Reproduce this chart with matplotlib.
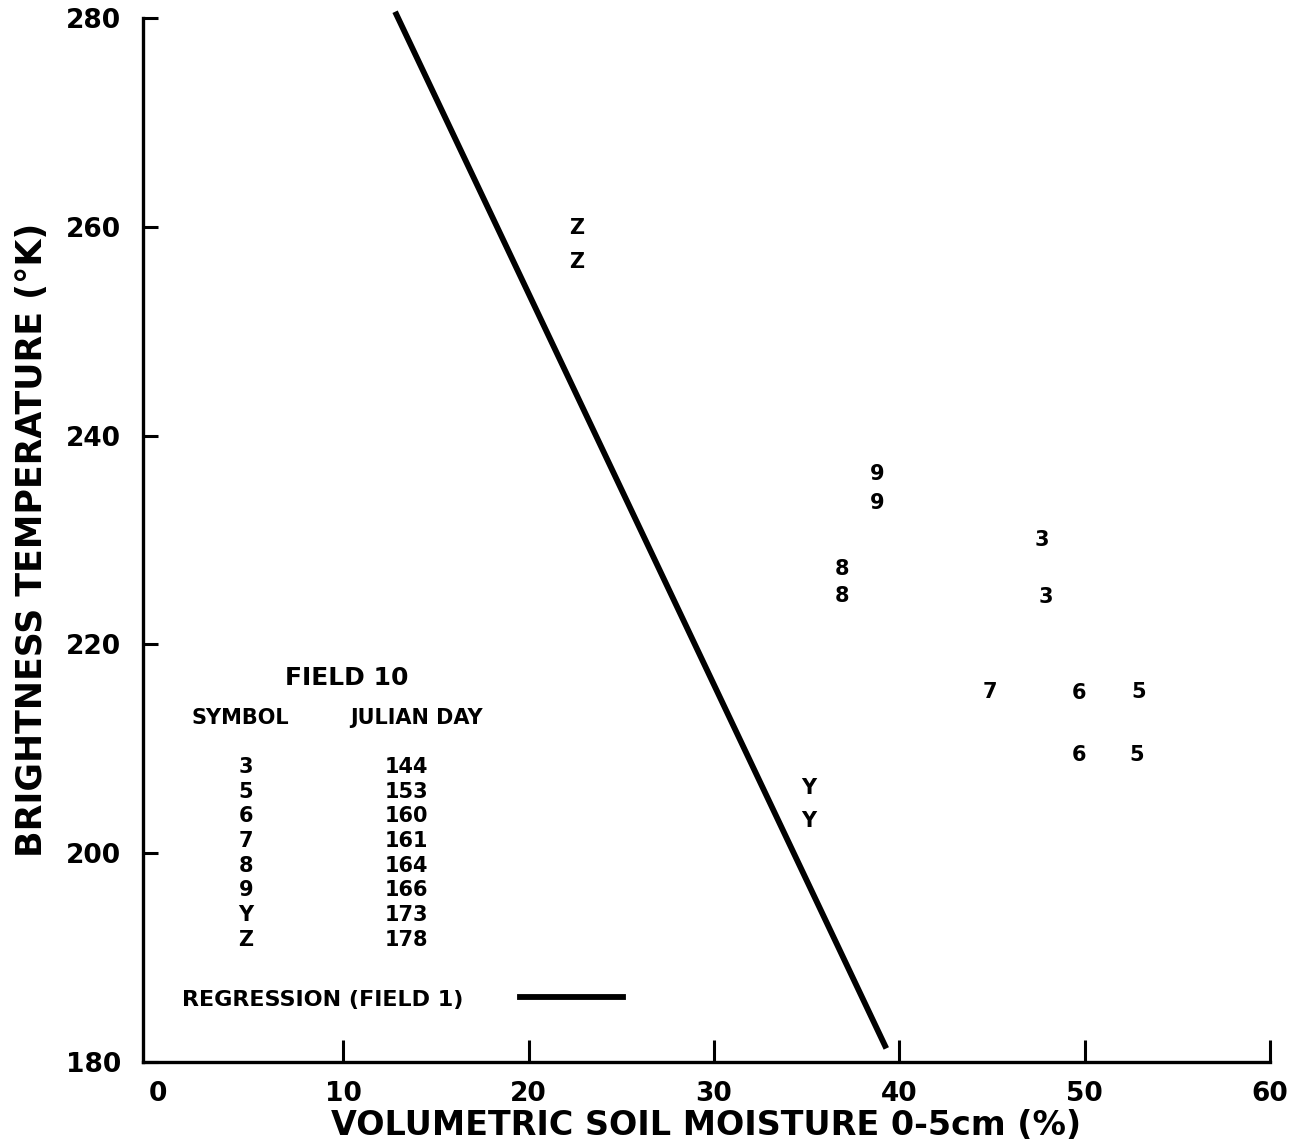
import matplotlib
matplotlib.use("Agg")
import matplotlib.pyplot as plt
from matplotlib.lines import Line2D

plt.rcParams['font.family'] = ['DejaVu Sans']

# ---- data ----
point_symbols = ["Z", "Z", "9", "9", "8", "8", "3", "3", "7", "6", "6", "5", "5", "Y", "Y"]
point_moisture = [22.6, 22.6, 38.8, 38.8, 36.9, 36.9, 47.7, 47.9, 44.9, 49.7, 49.7, 52.9, 52.8, 35.1, 35.1]
point_tb = [259.9, 256.6, 236.3, 233.5, 227.2, 224.6, 230.0, 224.5, 215.4, 215.3, 209.4, 215.4, 209.4, 206.2, 203.1]

regression_x = [12.8, 39.3]
regression_y = [280.6, 181.3]

legend_symbols = ["3", "5", "6", "7", "8", "9", "Y", "Z"]
legend_days = ["144", "153", "160", "161", "164", "166", "173", "178"]

x_ticks = [0, 10, 20, 30, 40, 50, 60]
y_ticks = [180, 200, 220, 240, 260, 280]

# ---- figure ----
fig = plt.figure(figsize=(13.01, 11.48), dpi=100)
ax = fig.add_axes([143 / 1301, 1 - 1062 / 1148, (1270 - 143) / 1301, (1062 - 18) / 1148])

ax.set_xlim(-0.8, 60)
ax.set_ylim(180, 280)

for s in ["top", "right"]:
    ax.spines[s].set_visible(False)
for s in ["left", "bottom"]:
    ax.spines[s].set_linewidth(2.4)

ax.set_xticks(x_ticks)
ax.set_xticklabels([str(v) for v in x_ticks])
ax.set_yticks(y_ticks)
ax.set_yticklabels([str(v) for v in y_ticks])
ax.tick_params(axis="x", direction="in", length=16, width=2.2, pad=14,
               labelsize=19)
ax.tick_params(axis="y", direction="in", length=11, width=2.2, pad=16,
               labelsize=19)
for lab in ax.get_xticklabels() + ax.get_yticklabels():
    lab.set_fontweight("bold")
ax.xaxis.get_major_ticks()[0].tick1line.set_visible(False)

ax.set_xlabel("VOLUMETRIC SOIL MOISTURE 0-5cm (%)", fontsize=24,
              fontweight="bold", labelpad=1)
ax.set_ylabel("BRIGHTNESS TEMPERATURE (°K)", fontsize=25,
              fontweight="bold", labelpad=12)

# regression line
ax.plot(regression_x, regression_y, color="black", lw=4.2, clip_on=False,
        solid_capstyle="butt")

# data symbols
for sym, xv, yv in zip(point_symbols, point_moisture, point_tb):
    ax.text(xv, yv, sym, fontsize=15, fontweight="bold", ha="center",
            va="center")

# legend block
T = ax.transAxes
ax.text(0.181, 0.368, "FIELD 10", transform=T, fontsize=18,
        fontweight="bold", ha="center", va="center")
ax.text(0.086, 0.3295, "SYMBOL", transform=T, fontsize=15,
        fontweight="bold", ha="center", va="center")
ax.text(0.243, 0.3295, "JULIAN DAY", transform=T, fontsize=15,
        fontweight="bold", ha="center", va="center")
row0 = 0.2826
step = 0.02366
for i, (sym, day) in enumerate(zip(legend_symbols, legend_days)):
    yy = row0 - i * step
    ax.text(0.0914, yy, sym, transform=T, fontsize=15, fontweight="bold",
            ha="center", va="center")
    ax.text(0.234, yy, day, transform=T, fontsize=15, fontweight="bold",
            ha="center", va="center")

ax.text(0.0346, 0.0594, "REGRESSION (FIELD 1)", transform=T, fontsize=16,
        fontweight="bold", ha="left", va="center")
ax.add_line(Line2D([0.3345, 0.4259], [0.0623, 0.0623], transform=T,
                   color="black", lw=4.2))

fig.savefig("out.png", dpi=100)
